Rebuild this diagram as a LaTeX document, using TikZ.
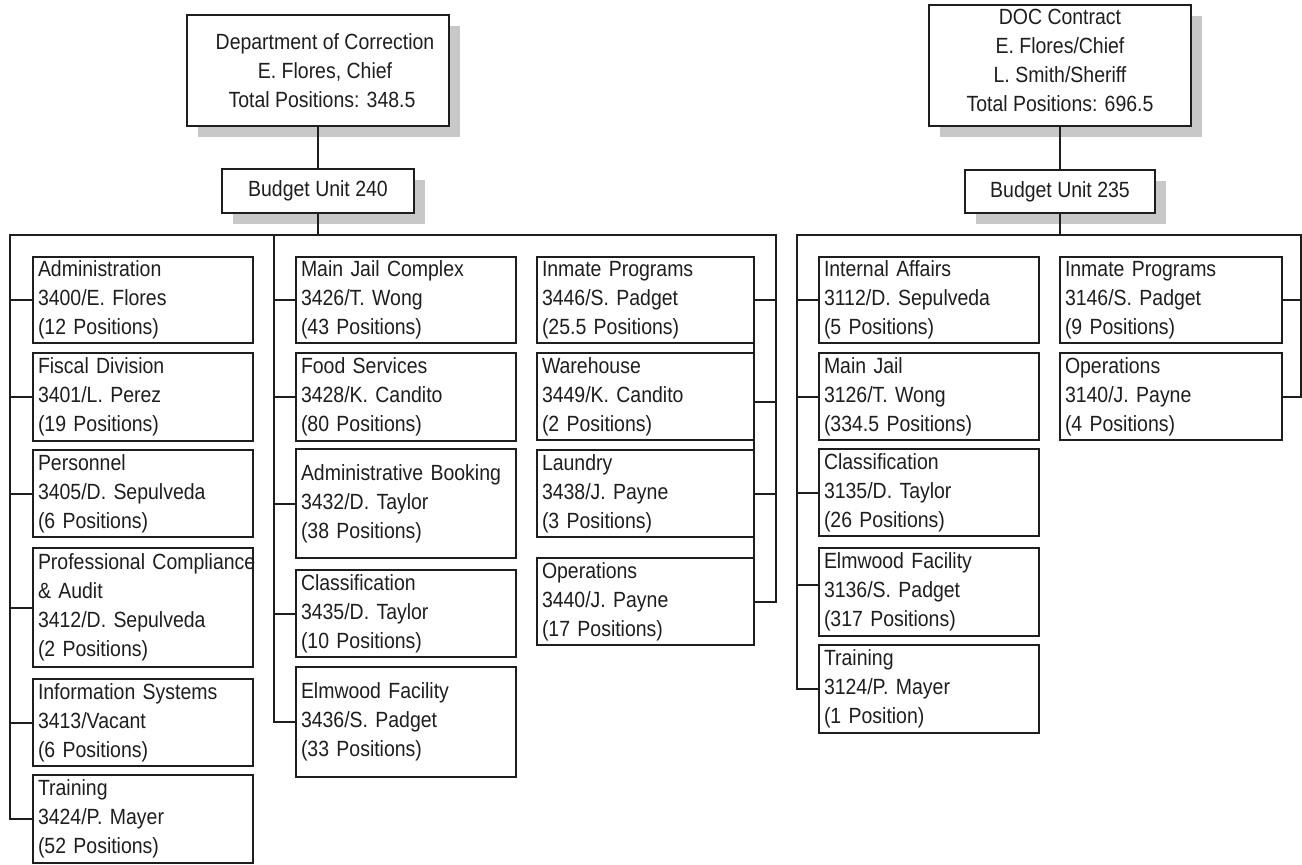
\documentclass[tikz,border=0pt]{standalone}
\usepackage{fontspec}
\setmainfont{Liberation Sans}[FakeStretch=0.885]
\usetikzlibrary{shadows}
\definecolor{shadowgray}{HTML}{C8C8C8}
\definecolor{ink}{HTML}{1E1E1E}

\begin{document}
\begin{tikzpicture}[x=1pt,y=-1pt,
  line width=2pt, draw=ink, text=ink,
  every node/.style={font=\fontsize{22pt}{29pt}\selectfont, outer sep=0pt},
  head/.style={draw=ink, fill=white, align=center, anchor=north west, inner sep=0pt,
    general shadow={fill=shadowgray, shadow xshift=11pt, shadow yshift=-11pt}},
  unit/.style={draw=ink, fill=white, anchor=north west, inner xsep=5pt, inner ysep=0pt,
    text width=210pt, align=left, minimum height=87pt},
  narrow/.style={text width=207pt},
  wide/.style={text width=212pt}]

\useasboundingbox (0,0) rectangle (1302,865);

% ---------------- Department of Correction ----------------
\node[head, minimum width=262pt, minimum height=111pt] (dept) at (187,15)
  {\hspace*{14pt}Department of Correction\\\hspace*{14pt}E. Flores, Chief\\\hspace*{8pt}Total Positions: 348.5};
\node[head, minimum width=192pt, minimum height=44pt] (bu240) at (222,169)
  {Budget Unit 240};

% column 1
\node[unit, minimum height=86pt]  (adm) at (33,257) {Administration\\3400/E. Flores\\(12 Positions)};
\node[unit, minimum height=88pt]  (fis) at (33,353) {Fiscal Division\\3401/L. Perez\\(19 Positions)};
\node[unit]                       (per) at (33,450) {Personnel\\3405/D. Sepulveda\\(6 Positions)};
\node[unit, minimum height=119pt] (pca) at (33,548) {\mbox{Professional Compliance}\\\& Audit\\3412/D. Sepulveda\\(2 Positions)};
\node[unit]                       (ins) at (33,679) {Information Systems\\3413/Vacant\\(6 Positions)};
\node[unit, minimum height=88pt]  (trn) at (33,775) {Training\\3424/P. Mayer\\(52 Positions)};

% column 2
\node[unit, minimum height=86pt]  (mjc) at (296,257) {Main Jail Complex\\3426/T. Wong\\(43 Positions)};
\node[unit, minimum height=88pt]  (fds) at (296,353) {Food Services\\3428/K. Candito\\(80 Positions)};
\node[unit, minimum height=109pt] (abk) at (296,449) {Administrative Booking\\3432/D. Taylor\\(38 Positions)};
\node[unit]                       (cls) at (296,570) {Classification\\3435/D. Taylor\\(10 Positions)};
\node[unit, minimum height=110pt] (elm) at (296,667) {Elmwood Facility\\3436/S. Padget\\(33 Positions)};

% column 3
\node[unit, narrow, minimum height=86pt] (inm) at (537,257) {Inmate Programs\\3446/S. Padget\\(25.5 Positions)};
\node[unit, narrow]                      (wrh) at (537,353) {Warehouse\\3449/K. Candito\\(2 Positions)};
\node[unit, narrow]                      (lnd) at (537,450) {Laundry\\3438/J. Payne\\(3 Positions)};
\node[unit, narrow]                      (ops) at (537,558) {Operations\\3440/J. Payne\\(17 Positions)};

% ---------------- DOC Contract ----------------
\node[head, minimum width=262pt, minimum height=121pt] (doc) at (929,5)
  {DOC Contract\\E. Flores/Chief\\L. Smith/Sheriff\\Total Positions: 696.5\rule[-10pt]{0pt}{0pt}};
\node[head, minimum width=190pt, minimum height=43pt] (bu235) at (965,170)
  {Budget Unit 235};

\node[unit, minimum height=86pt]  (iaf) at (819,257) {Internal Affairs\\3112/D. Sepulveda\\(5 Positions)};
\node[unit]                       (mjl) at (819,353) {Main Jail\\3126/T. Wong\\(334.5 Positions)};
\node[unit]                       (cl2) at (819,449) {Classification\\3135/D. Taylor\\(26 Positions)};
\node[unit, minimum height=88pt]  (el2) at (819,548) {Elmwood Facility\\3136/S. Padget\\(317 Positions)};
\node[unit, minimum height=88pt]  (tr2) at (819,645) {Training\\3124/P. Mayer\\(1 Position)};

\node[unit, wide, minimum height=86pt] (in2) at (1060,257) {Inmate Programs\\3146/S. Padget\\(9 Positions)};
\node[unit, wide]                      (op2) at (1060,353) {Operations\\3140/J. Payne\\(4 Positions)};

% ---------------- connectors ----------------
\coordinate (La) at (10,235);
\coordinate (Lb) at (274,235);
\coordinate (Lc) at (776,235);
\coordinate (Ra) at (797,235);
\coordinate (Rb) at (1301,235);

\draw (dept.south) -- (bu240.north);
\draw (bu240.south) -- (bu240.south |- La);
\draw (trn.west) -| (La) -- (Lc) |- (ops.east);
\draw (Lb) |- (elm.west);
\foreach \n in {adm,fis,per,pca,ins} \draw (\n.west) -- (\n.west -| La);
\foreach \n in {mjc,fds,abk,cls} \draw (\n.west) -- (\n.west -| Lb);
\draw (inm.east) -- (inm.east -| Lc);
\draw ([yshift=-5pt]wrh.east) -- ([yshift=-5pt]wrh.east -| Lc);
\draw (lnd.east) -- (lnd.east -| Lc);
\draw (inm.south east) -- (ops.north east);

\draw (doc.south) -- (bu235.north);
\draw (bu235.south) -- (bu235.south |- Ra);
\draw (tr2.west) -| (Ra) -- (Rb) |- (op2.east);
\foreach \n in {iaf,mjl,cl2} \draw (\n.west) -- (\n.west -| Ra);
\draw ([yshift=7pt]el2.west) -- ([yshift=7pt]el2.west -| Ra);
\draw (in2.east) -- (in2.east -| Rb);
\end{tikzpicture}
\end{document}
